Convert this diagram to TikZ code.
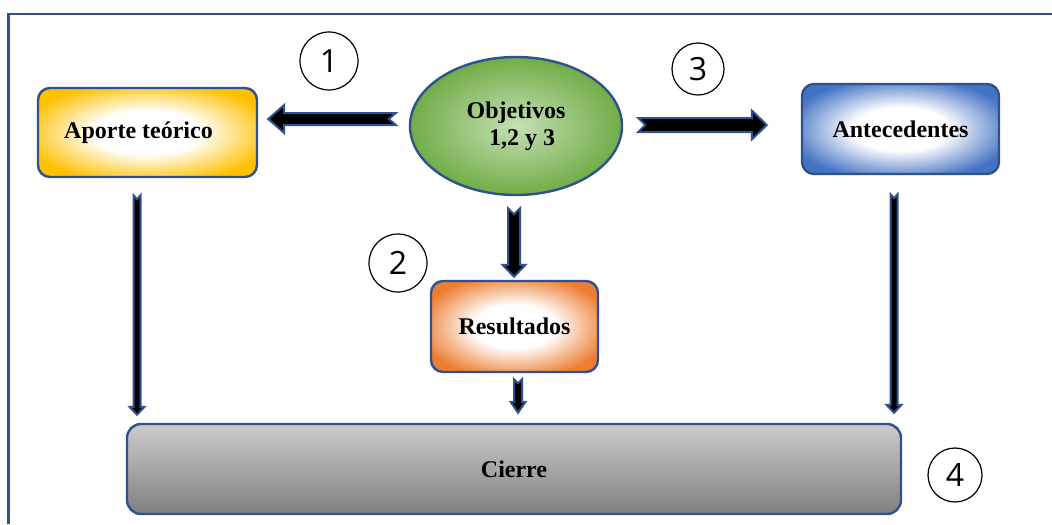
\documentclass[tikz,border=0pt]{standalone}
\usepackage{fontspec}
\setmainfont{Liberation Serif}
\newfontfamily\numfont{Open Sans}
\usetikzlibrary{calc,shapes.geometric}
\definecolor{frameblue}{HTML}{2F528F}
\definecolor{aporteyellow}{HTML}{FFC000}
\definecolor{antecblue}{HTML}{4472C4}
\definecolor{resulorange}{HTML}{ED7D31}
\definecolor{objgreen}{HTML}{70AD47}
\definecolor{objgreenL}{HTML}{C5E0B4}
\pgfdeclareradialshading{glowyellow}{\pgfpoint{0bp}{0bp}}{color(0bp)=(white); color(12bp)=(white); color(29bp)=(aporteyellow); color(50bp)=(aporteyellow)}
\pgfdeclareradialshading{glowblue}{\pgfpoint{0bp}{0bp}}{color(0bp)=(white); color(12bp)=(white); color(29bp)=(antecblue); color(50bp)=(antecblue)}
\pgfdeclareradialshading{gloworange}{\pgfpoint{0bp}{0bp}}{color(0bp)=(white); color(12bp)=(white); color(29bp)=(resulorange); color(50bp)=(resulorange)}
% block arrow: tail, tip, shaft half width, head half width, head length, notch depth
\newcommand{\blkarrow}[6]{%
  \coordinate (hb) at ($(#2)!#5!(#1)$);
  \filldraw[blkarr] ($(#1)!#3!90:(#2)$) -- ($(hb)!#3!90:(#2)$) -- ($(hb)!#4!90:(#2)$) -- (#2)
    -- ($(hb)!#4!-90:(#2)$) -- ($(hb)!#3!-90:(#2)$) -- ($(#1)!#3!-90:(#2)$) -- ($(#1)!#6!(#2)$) -- cycle;}
\begin{document}
\begin{tikzpicture}[x=0.5pt, y=-0.5pt, font=\fontsize{12}{13.5}\selectfont\bfseries,
    box/.style={draw=frameblue, line width=1.2pt, rounded corners=6pt, align=center, shading=#1},
    num/.style={circle, draw=black, line width=0.6pt, minimum size=#1, inner sep=0pt,
      font=\numfont\fontsize{16}{16}\selectfont},
    blkarr/.style={fill=black, draw=frameblue, line width=1pt, line join=miter}]
  \useasboundingbox (0,0) rectangle (1052,524);
  % ---- frame ---------------------------------------------------------------
  \draw[frameblue, line width=1.3pt] (8.5,524) -- (8.5,14) -- (1052,14);
  % ---- nodes ---------------------------------------------------------------
  \node[ellipse, draw=frameblue, line width=1.2pt, inner color=objgreenL, outer color=objgreen,
    minimum width=106pt, minimum height=69pt, align=center] (obj) at (516,126) {Objetivos\\\ \ 1,2 y 3};
  \node[box=glowyellow, minimum width=109.5pt, minimum height=44.5pt] (apo) at (147.5,132.5) {Aporte te\'orico\hspace*{9pt}};
  \node[box=glowblue, minimum width=98.5pt, minimum height=45pt] (ant) at (900.5,129) {Antecedentes};
  \node[box=gloworange, minimum width=83.5pt, minimum height=45.5pt] (res) at (514.5,326.5) {Resultados};
  \node[draw=frameblue, line width=1.2pt, rounded corners=7pt, top color=black!20, bottom color=black!50,
    minimum width=387pt, minimum height=45pt] (cie) at (514,469) {Cierre};
  % ---- step numbers --------------------------------------------------------
  \node[num=29pt] (n1) at (329,61) {1};
  \node[num=29pt] (n2) at (398,263) {2};
  \node[num=26pt] (n3) at (698,69) {3};
  \node[num=27pt] (n4) at (955,475) {4};
  % ---- arrow ends ----------------------------------------------------------
  \coordinate (a1s) at ($(obj.west)+(-13,-7)$);
  \coordinate (a1e) at (apo.east |- a1s);
  \coordinate (a1e) at ($(a1e)+(10,0)$);
  \coordinate (a3s) at ($(obj.east)+(15,-1)$);
  \coordinate (a3e) at ($(ant.west |- a3s)+(-34,0)$);
  \coordinate (a2s) at ($(obj.south)+(-2,12)$);
  \coordinate (a2e) at ($(res.north -| a2s)+(0,-3)$);
  \coordinate (a4s) at ($(res.south)+(3.5,6)$);
  \coordinate (a4e) at ($(cie.north -| a4s)+(0,-10)$);
  \coordinate (a5s) at ($(apo.south)+(-10.5,17)$);
  \coordinate (a5e) at ($(cie.north -| a5s)+(0,-8)$);
  \coordinate (a6s) at ($(ant.south)+(-6.5,19)$);
  \coordinate (a6e) at ($(cie.north -| a6s)+(0,-10)$);
  % ---- block arrows --------------------------------------------------------
  \blkarrow{a1s}{a1e}{3pt}{7pt}{8pt}{3.5pt}
  \blkarrow{a3s}{a3e}{3.5pt}{7.25pt}{7.5pt}{3.5pt}
  \blkarrow{a2s}{a2e}{3pt}{5.75pt}{6pt}{3pt}
  \blkarrow{a4s}{a4e}{2pt}{3.75pt}{5.5pt}{2pt}
  \blkarrow{a5s}{a5e}{1.75pt}{3.75pt}{4pt}{2pt}
  \blkarrow{a6s}{a6e}{1.75pt}{3.75pt}{4pt}{2pt}
\end{tikzpicture}
\end{document}
